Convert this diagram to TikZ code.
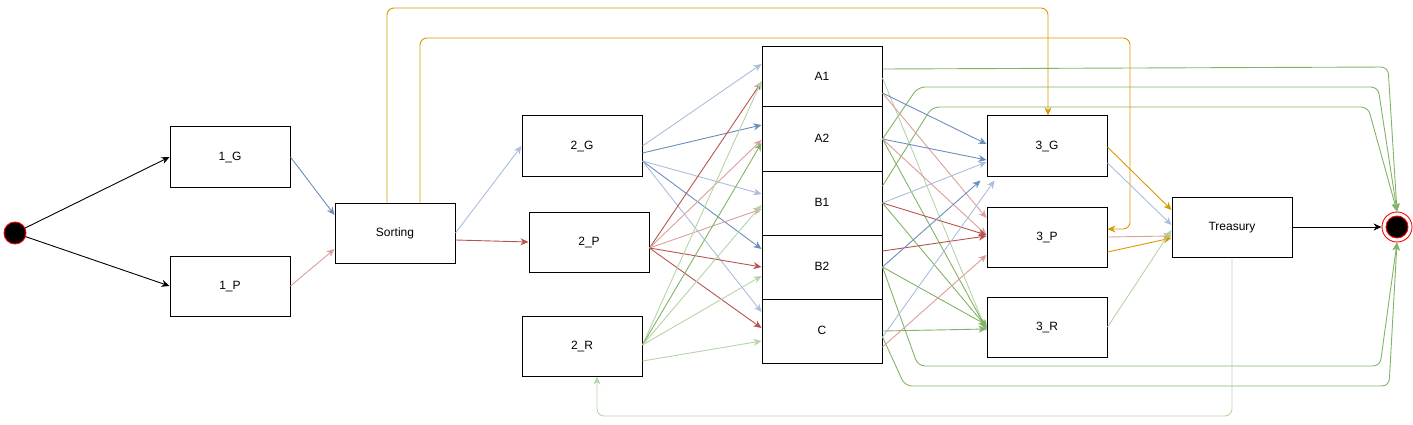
\documentclass[tikz,border=0pt]{standalone}
\usepackage{fontspec}
\setmainfont{Liberation Sans}
\usetikzlibrary{arrows.meta,calc}
\definecolor{cblue}{HTML}{6C8EBF}
\definecolor{cblueL}{HTML}{A9BEDD}
\definecolor{cred}{HTML}{B85450}
\definecolor{credL}{HTML}{D9A09D}
\definecolor{cgreen}{HTML}{82B366}
\definecolor{cgreenL}{HTML}{B5D4A6}
\definecolor{corange}{HTML}{D79B00}
\definecolor{cendred}{HTML}{FF0000}
\tikzset{
  box/.style={draw=black, line width=1pt, fill=white, minimum width=120pt, minimum height=60pt, inner sep=0pt, text height=9pt, text depth=2pt, font=\fontsize{12pt}{14pt}\selectfont},
  colbox/.style={box, minimum height=64pt},
  conn/.style={-{Stealth[length=8pt,width=7pt,inset=2.5pt]}, line width=0.9pt},
  blk/.style={conn, draw=black},
  bl/.style={conn, draw=cblue},
  blL/.style={conn, draw=cblueL},
  rd/.style={conn, draw=cred},
  rdL/.style={conn, draw=credL},
  gr/.style={conn, draw=cgreen, rounded corners=7pt},
  grL/.style={conn, draw=cgreenL, rounded corners=7pt},
  og/.style={conn, draw=corange, rounded corners=7pt},
}
\begin{document}
\begin{tikzpicture}[x=1pt,y=-1pt]
\useasboundingbox (0,0) rectangle (1413,425);
% nodes
\node[circle, draw=cendred, fill=black, line width=0.9pt, minimum size=22pt, inner sep=0pt] (start) at (15,233) {};
\node[box] (g1) at (230,157) {1\_G};
\node[box] (p1) at (230,286) {1\_P};
\node[box] (sort) at (395,233) {Sorting};
\node[box] (g2) at (582,146) {2\_G};
\node[box] (p2) at (589,242) {2\_P};
\node[box] (r2) at (582,346) {2\_R};
\node[box] (A1) at (822,77) {A1};
\node[colbox] (A2) at (822,139) {A2};
\node[colbox] (B1) at (822,203) {B1};
\node[colbox] (B2) at (822,267) {B2};
\node[colbox] (C) at (822,331) {C};
\node[box] (g3) at (1047,146) {3\_G};
\node[box] (p3) at (1047,237) {3\_P};
\node[box] (r3) at (1047,327) {3\_R};
\node[box] (tr) at (1232,227) {Treasury};
\node[circle, draw=cendred, fill=white, line width=0.9pt, minimum size=30pt, inner sep=0pt] (end) at (1397,227) {};
\node[circle, draw=cendred, fill=black, line width=0.9pt, minimum size=22pt, inner sep=0pt] (endin) at (1397,227) {};

% start
\draw[blk] (start) -- (g1.west);
\draw[blk] (start) -- (p1.west);
\draw[bl] (g1.east) -- ([yshift=18pt]sort.west);
\draw[rdL] (p1.east) -- ([yshift=-16pt]sort.west);
\draw[blL] (sort.east) -- (g2.west);
\draw[rd] ([yshift=-7pt]sort.east) -- (p2.west);

% orange loops from Sorting
\draw[og] ([xshift=-8pt]sort.north) -- (387,8) -- (1048,8) -- ([xshift=1pt]g3.north);
\draw[og] ([xshift=25pt]sort.north) -- (420,38) -- (1130,38) -- (1130,229) -- ([yshift=8pt]p3.east);

% 2_G
\draw[blL] (g2.east) -- ([yshift=13pt]A1.west);
\draw[bl] ([yshift=-7pt]g2.east) -- ([yshift=14pt]A2.west);
\draw[blL] ([yshift=-15pt]g2.east) -- ([yshift=9pt]B1.west);
\draw[bl] ([yshift=-15pt]g2.east) -- ([yshift=18pt]B2.west);
\draw[blL] ([yshift=-15pt]g2.east) -- ([yshift=19pt]C.west);

% 2_P
\draw[rd] ([yshift=-6pt]p2.east) -- ([yshift=-5pt]A1.west);
\draw[rdL] ([yshift=-6pt]p2.east) -- ([yshift=-1pt]A2.west);
\draw[rdL] ([yshift=-6pt]p2.east) -- ([yshift=-6pt]B1.west);
\draw[rd] ([yshift=-6pt]p2.east) -- (B2.west);
\draw[rd] ([yshift=-6pt]p2.east) -- ([yshift=3pt]C.west);

% 2_R
\draw[grL] ([yshift=1pt]r2.east) -- ([yshift=-4pt]A1.west);
\draw[gr] ([yshift=1pt]r2.east) -- ([yshift=-4pt]A2.west);
\draw[grL] ([yshift=1pt]r2.east) -- ([yshift=-2pt]B1.west);
\draw[grL] ([yshift=1pt]r2.east) -- ([yshift=-9pt]B2.west);
\draw[grL] ([yshift=-15pt]r2.east) -- ([yshift=-10pt]C.west);

% column to end (loops)
\draw[gr] ([yshift=8pt]A1.east) -- (1388,67) -- (end.north);
\draw[gr] (A2.east) -- (918,87) -- (1378,87) -- (end.north);
\draw[gr] ([yshift=17pt]B1.east) -- (932,107) -- (1368,107) -- (end.north);
\draw[gr] (B2.east) -- (918,366) -- (1380,366) -- (end.south);
\draw[gr] ([yshift=-6pt]C.east) -- (905,386) -- (1389,386) -- (end.south);

% A1
\draw[grL] ([yshift=-1pt]A1.east) -- ([yshift=-4pt]r3.west);
\draw[bl] ([yshift=-16pt]A1.east) -- ([yshift=2pt]g3.west);
\draw[rdL] ([yshift=-16pt]A1.east) -- ([yshift=19pt]p3.west);
% A2
\draw[bl] (A2.east) -- ([yshift=-14pt]g3.west);
\draw[rdL] (A2.east) -- ([yshift=2pt]p3.west);
\draw[gr] (A2.east) -- ([yshift=-2pt]r3.west);
% B1
\draw[blL] (B1.east) -- ([yshift=-16pt]g3.west);
\draw[rd] (B1.east) -- ([yshift=2pt]p3.west);
\draw[gr] (B1.east) -- (r3.west);
% B2
\draw[rd] ([yshift=16pt]B2.east) -- ([yshift=1pt]p3.west);
\draw[bl] (B2.east) -- ([xshift=-6pt,yshift=-4pt]g3.south west);
\draw[gr] (B2.east) -- ([yshift=2pt]r3.west);
% C
\draw[gr] (C.east) -- ([yshift=-2pt]r3.west);
\draw[blL] ([yshift=-6pt]C.east) -- ([xshift=8pt,yshift=-4pt]g3.south west);
\draw[rdL] ([yshift=-16pt]C.east) -- ([yshift=-18pt]p3.west);

% third column to Treasury
\draw[og] ([yshift=-1pt]g3.east) -- ([yshift=17pt]tr.west);
\draw[blL] ([yshift=-17pt]g3.east) -- ([yshift=2pt]tr.west);
\draw[rdL] (p3.east) -- ([yshift=-9pt]tr.west);
\draw[og] ([yshift=-15pt]p3.east) -- ([yshift=-11pt]tr.west);
\draw[grL] (r3.east) -- ([yshift=-3pt]tr.west);

% Treasury
\draw[blk] (tr.east) -- (end.west);
\draw[grL] (tr.south) -- (1232,416) -- (597,416) -- ([xshift=15pt]r2.south);
\end{tikzpicture}
\end{document}
